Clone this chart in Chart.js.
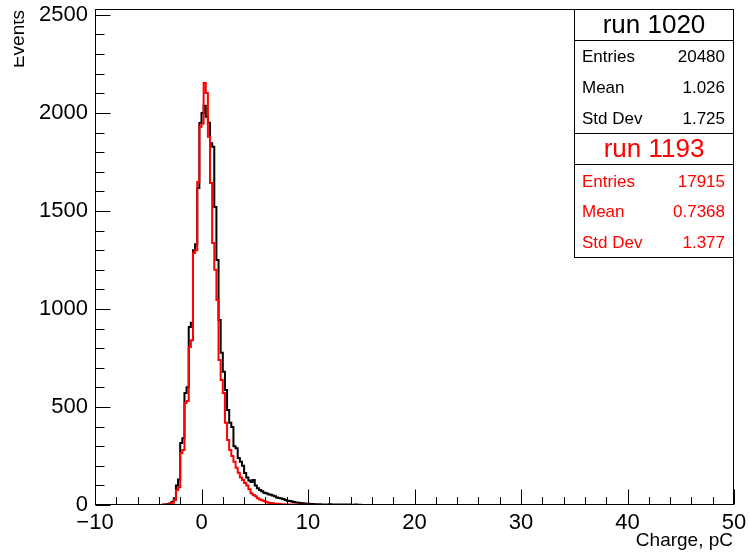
<!DOCTYPE html>
<html>
<head>
<meta charset="utf-8">
<script src="https://cdn.jsdelivr.net/npm/chart.js@4.4.1/dist/chart.umd.min.js"></script>
<style>
html,body{margin:0;padding:0;background:#fff;}
#wrap{width:749px;height:552px;position:relative;}
canvas{display:block;}
</style>
</head>
<body>
<div id="wrap"><canvas id="c" width="749" height="552"></canvas></div>
<script>
// ---------- data ----------
const xRange = [-10, 50];          // histogram axis range, pC
const binWidth = 0.2;              // pC per bin
const firstFilledLowEdge = -3.6;   // low edge of first listed bin
const yMax = 2530;

// run 1020 (black), counts per bin starting at firstFilledLowEdge
const run1020Counts = [
  2, 3, 5, 9, 16, 35, 100, 130, 316, 340,
  571, 600, 908, 930, 1300, 1330, 1617, 1949, 2000, 2037,
  1980, 1950, 1845, 1827, 1520, 1250, 944, 776, 680, 587,
  485, 420, 398, 300, 290, 240, 220, 200, 163, 140,
  125, 117, 128, 100, 85, 77, 70, 62, 60, 55,
  52, 48, 44, 38, 36, 33, 30, 26, 22, 20,
  18, 15, 13, 11, 10, 9, 8, 7, 6, 5,
  5, 4, 3, 4, 2, 3, 3, 2, 4, 2,
  1, 3, 2, 2, 1, 3, 1, 2, 1, 1,
  2, 0, 1
];
// run 1193 (red)
const run1193Counts = [
  1, 2, 3, 6, 12, 25, 76, 90, 265, 280,
  520, 530, 806, 840, 1286, 1300, 1648, 1929, 1945, 2153,
  2102, 1878, 1643, 1337, 1200, 1046, 740, 638, 571, 420,
  332, 280, 250, 220, 190, 165, 140, 128, 112, 100,
  80, 60, 51, 45, 35, 28, 24, 20, 15, 12,
  10, 9, 7, 6, 5, 4, 4, 3, 3, 2,
  2, 1, 2, 1, 1, 0, 1, 0, 1, 0,
  0, 1
];

const xMajorTicks = [-10, 0, 10, 20, 30, 40, 50];
const yMajorTicks = [0, 500, 1000, 1500, 2000, 2500];
const xMinorStep = 2;
const yMinorStep = 100;

const statsLabels = ['Entries', 'Mean', 'Std Dev'];
const run1020Stats = ['20480', '1.026', '1.725'];
const run1193Stats = ['17915', '0.7368', '1.377'];
const runTitles = ['run 1020', 'run 1193'];
const xTitle = 'Charge, pC';
const yTitle = 'Events';

// ---------- build histogram points from the bins ----------
function histPoints(counts) {
  const nBins = Math.round((xRange[1] - xRange[0]) / binWidth);
  const offset = Math.round((firstFilledLowEdge - xRange[0]) / binWidth);
  const pts = [];
  for (let i = 0; i < nBins; i++) {
    const j = i - offset;
    const c = (j >= 0 && j < counts.length) ? counts[j] : 0;
    pts.push({ x: +(xRange[0] + i * binWidth).toFixed(4), y: c });
  }
  pts.push({ x: xRange[1], y: 0 });
  return pts;
}

const FONT = "'Liberation Sans', Arial, Helvetica, sans-serif";
const fmt = v => (v < 0 ? '\u2212' + Math.abs(v) : String(v));

const rootPlugin = {
  id: 'rootDecor',
  afterDraw(chart) {
    const { ctx, chartArea: a, scales: { x, y } } = chart;
    ctx.save();
    ctx.strokeStyle = '#000';
    ctx.lineWidth = 1;
    const L = Math.round(a.left) + 0.5, R = Math.round(a.right) - 0.5;
    const T = Math.round(a.top) + 0.5, B = Math.round(a.bottom) - 0.5;
    // frame
    ctx.strokeRect(L, T, R - L, B - T);
    // x ticks (inside)
    ctx.beginPath();
    for (let v = xRange[0]; v <= xRange[1] + 1e-9; v += xMinorStep) {
      const px = Math.round(x.getPixelForValue(v)) + 0.5;
      const major = xMajorTicks.some(t => Math.abs(t - v) < 1e-6);
      const len = major ? 15 : 7.5;
      ctx.moveTo(px, B);
      ctx.lineTo(px, B - len);
    }
    // y ticks (inside)
    for (let v = 0; v <= yMax + 1e-9; v += yMinorStep) {
      const py = Math.round(y.getPixelForValue(v)) + 0.5;
      const len = yMajorTicks.includes(v) ? 15 : 9;
      ctx.moveTo(L, py);
      ctx.lineTo(L + len, py);
    }
    ctx.stroke();

    // axis titles
    ctx.fillStyle = '#000';
    ctx.font = '19px ' + FONT;
    ctx.textAlign = 'right';
    ctx.textBaseline = 'alphabetic';
    ctx.fillText(xTitle, 733, 546);

    ctx.save();
    ctx.beginPath();
    ctx.rect(14, 0, 200, 552);
    ctx.clip();
    ctx.translate(23.5, a.top + 1);
    ctx.rotate(-Math.PI / 2);
    ctx.textAlign = 'right';
    ctx.fillText(yTitle, 0, 0);
    ctx.restore();

    // stats boxes
    const bx0 = 574.5, bx1 = 733.5;
    const rows = [9.5, 40.5, 133.5, 164.5, 257.5];
    ctx.fillStyle = '#fff';
    ctx.fillRect(bx0, rows[0], bx1 - bx0, rows[4] - rows[0]);
    ctx.strokeStyle = '#000';
    ctx.strokeRect(bx0, rows[0], bx1 - bx0, rows[4] - rows[0]);
    ctx.beginPath();
    for (let k = 1; k < 4; k++) { ctx.moveTo(bx0, rows[k]); ctx.lineTo(bx1, rows[k]); }
    ctx.stroke();

    const drawBlock = (title, vals, color, titleY, rowYs) => {
      ctx.fillStyle = color;
      ctx.textBaseline = 'middle';
      ctx.font = '26px ' + FONT;
      ctx.textAlign = 'center';
      ctx.fillText(title, (bx0 + bx1) / 2, titleY);
      ctx.font = '17px ' + FONT;
      for (let i = 0; i < statsLabels.length; i++) {
        ctx.textAlign = 'left';
        ctx.fillText(statsLabels[i], 582, rowYs[i]);
        ctx.textAlign = 'right';
        ctx.fillText(vals[i], 725, rowYs[i]);
      }
    };
    drawBlock(runTitles[0], run1020Stats, '#000', 26, [57, 88, 119]);
    drawBlock(runTitles[1], run1193Stats, '#ff0000', 150, [182, 212, 243]);
    ctx.restore();
  }
};

new Chart(document.getElementById('c').getContext('2d'), {
  type: 'line',
  data: {
    datasets: [
      { label: runTitles[0], data: histPoints(run1020Counts), borderColor: '#000000',
        borderWidth: 2, stepped: true, pointRadius: 0, fill: false, order: 1 },
      { label: runTitles[1], data: histPoints(run1193Counts), borderColor: '#ff0000',
        borderWidth: 2, stepped: true, pointRadius: 0, fill: false, order: 0 }
    ]
  },
  options: {
    responsive: false,
    animation: false,
    devicePixelRatio: 1,
    layout: { padding: { top: 9, right: 15, left: 0, bottom: 0 } },
    plugins: { legend: { display: false }, tooltip: { enabled: false } },
    scales: {
      x: {
        type: 'linear', min: xRange[0], max: xRange[1],
        grid: { display: false, drawTicks: false },
        border: { display: false },
        afterBuildTicks: s => { s.ticks = xMajorTicks.map(v => ({ value: v })); },
        ticks: { autoSkip: false, maxRotation: 0, padding: 5,
                 color: '#000', font: { family: FONT, size: 22 }, callback: v => fmt(v) },
        afterFit: s => { s.height = 47; s.paddingLeft = 0; s.paddingRight = 0; }
      },
      y: {
        type: 'linear', min: 0, max: yMax,
        grid: { display: false, drawTicks: false },
        border: { display: false },
        afterBuildTicks: s => { s.ticks = yMajorTicks.map(v => ({ value: v })); },
        ticks: { autoSkip: false, padding: 7,
                 color: '#000', font: { family: FONT, size: 22 }, callback: v => String(v) },
        afterFit: s => { s.width = 95; s.paddingTop = 0; s.paddingBottom = 0; }
      }
    }
  },
  plugins: [rootPlugin]
});
</script>
</body>
</html>
